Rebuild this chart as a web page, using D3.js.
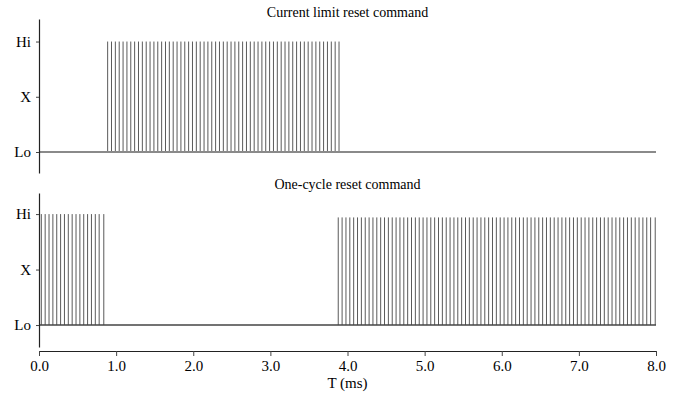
<!DOCTYPE html>
<html>
<head>
<meta charset="utf-8">
<script src="https://cdn.jsdelivr.net/npm/d3@7"></script>
<style>
  body { margin: 0; background: #fff; }
  svg text { font-family: "Liberation Serif", "Times New Roman", serif; fill: #000; }
</style>
</head>
<body>
<div id="chart"></div>
<script>
// level labels for both panels
const levelValues = [0, 0.5, 1];
const levelLabels = ["Lo", "X", "Hi"];
const xTicks = [0, 1, 2, 3, 4, 5, 6, 7, 8];

// pulse instants (ms)
const topPulses = [
  0.89, 0.94, 0.99, 1.04, 1.09, 1.14, 1.19, 1.24, 1.29, 1.34,
  1.39, 1.44, 1.49, 1.54, 1.59, 1.64, 1.69, 1.74, 1.79, 1.84,
  1.89, 1.94, 1.99, 2.04, 2.09, 2.14, 2.19, 2.24, 2.29, 2.34,
  2.39, 2.44, 2.49, 2.54, 2.59, 2.64, 2.69, 2.74, 2.79, 2.84,
  2.89, 2.94, 2.99, 3.04, 3.09, 3.14, 3.19, 3.24, 3.29, 3.34,
  3.39, 3.44, 3.49, 3.54, 3.59, 3.64, 3.69, 3.74, 3.79, 3.84,
  3.89
];
const bottomPulsesA = [
  0.03, 0.08, 0.13, 0.18, 0.23, 0.28, 0.33, 0.38, 0.43, 0.48,
  0.53, 0.58, 0.63, 0.68, 0.73, 0.78, 0.84
];
const bottomPulsesB = [
  3.88, 3.93, 3.98, 4.03, 4.08, 4.13, 4.18, 4.23, 4.28, 4.33,
  4.38, 4.43, 4.48, 4.53, 4.58, 4.63, 4.68, 4.73, 4.78, 4.83,
  4.88, 4.93, 4.98, 5.03, 5.08, 5.13, 5.18, 5.23, 5.28, 5.33,
  5.38, 5.43, 5.48, 5.53, 5.58, 5.63, 5.68, 5.73, 5.78, 5.83,
  5.88, 5.93, 5.98, 6.03, 6.08, 6.13, 6.18, 6.23, 6.28, 6.33,
  6.38, 6.43, 6.48, 6.53, 6.58, 6.63, 6.68, 6.73, 6.78, 6.83,
  6.88, 6.93, 6.98, 7.03, 7.08, 7.13, 7.18, 7.23, 7.28, 7.33,
  7.38, 7.43, 7.48, 7.53, 7.58, 7.63, 7.68, 7.73, 7.78, 7.83,
  7.88, 7.93, 7.99
];
// pulse heights (Hi = 1)
const topHigh = 1;
const bottomHighA = 1;
const bottomHighB = 0.97;

const width = 683, height = 395;

const svg = d3.select("#chart")
  .append("svg")
  .attr("width", width)
  .attr("height", height);

const x = d3.scaleLinear().domain([0, 8]).range([39, 656]);

const panels = [
  {
    title: "Current limit reset command",
    titleY: 17,
    y: d3.scaleLinear().domain([-0.19, 1.204]).range([173, 19]),
    bursts: [{ t: topPulses, h: topHigh }],
    baseColor: "#8a8a8a",
    baseWidth: 2
  },
  {
    title: "One-cycle reset command",
    titleY: 189,
    y: d3.scaleLinear().domain([-0.198, 1.19]).range([347, 193]),
    bursts: [{ t: bottomPulsesA, h: bottomHighA }, { t: bottomPulsesB, h: bottomHighB }],
    baseColor: "#444",
    baseWidth: 1.5
  }
];

panels.forEach((p) => {
  const g = svg.append("g");

  // title
  g.append("text")
    .attr("x", (x(0) + x(8)) / 2)
    .attr("y", p.titleY)
    .attr("text-anchor", "middle")
    .style("font-size", "14px")
    .text(p.title);

  // pulses
  p.bursts.forEach((b) => {
    g.selectAll(null)
      .data(b.t)
      .enter()
      .append("line")
      .attr("x1", (d) => x(d))
      .attr("x2", (d) => x(d))
      .attr("y1", p.y(0))
      .attr("y2", p.y(b.h))
      .attr("stroke", "#5a5a5a")
      .attr("stroke-width", 1);
  });

  // Lo baseline
  g.append("line")
    .attr("x1", x(0))
    .attr("x2", x(8))
    .attr("y1", p.y(0))
    .attr("y2", p.y(0))
    .attr("stroke", p.baseColor)
    .attr("stroke-width", p.baseWidth);

  // y axis
  const yAxis = d3.axisLeft(p.y)
    .tickValues(levelValues)
    .tickFormat((d, i) => levelLabels[i])
    .tickSizeInner(3)
    .tickSizeOuter(0)
    .tickPadding(5);

  const ya = g.append("g")
    .attr("transform", `translate(${x(0)},0)`)
    .call(yAxis);
  ya.select(".domain").attr("stroke", "#222").attr("stroke-width", 1.2);
  ya.selectAll(".tick line").attr("stroke", "#444");
  ya.selectAll(".tick text")
    .style("font-family", "'Liberation Serif', serif")
    .style("font-size", "15px")
    .attr("fill", "#000");
});

// x axis
const xAxis = d3.axisBottom(x)
  .tickValues(xTicks)
  .tickFormat(d3.format(".1f"))
  .tickSizeInner(5)
  .tickSizeOuter(0)
  .tickPadding(4);

const xa = svg.append("g")
  .attr("transform", "translate(0,351)")
  .call(xAxis);
xa.select(".domain").attr("stroke", "#222").attr("stroke-width", 1.2);
xa.selectAll(".tick line").attr("stroke", "#444");
xa.selectAll(".tick text")
  .style("font-family", "'Liberation Serif', serif")
  .style("font-size", "15px")
  .attr("fill", "#000");

svg.append("text")
  .attr("x", (x(0) + x(8)) / 2)
  .attr("y", 388)
  .attr("text-anchor", "middle")
  .style("font-size", "15px")
  .text("T (ms)");
</script>
</body>
</html>
